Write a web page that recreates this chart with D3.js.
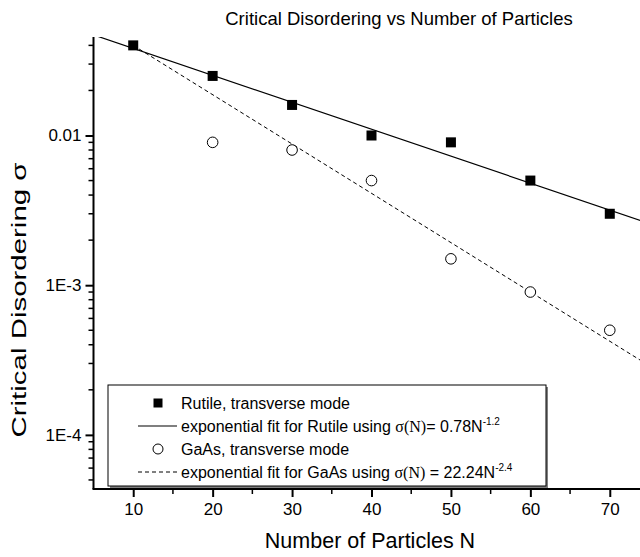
<!DOCTYPE html>
<html><head><meta charset="utf-8">
<script src="https://cdn.jsdelivr.net/npm/d3@7"></script>
<style>body{margin:0;background:#fff} svg{display:block;font-family:Arial,"Liberation Sans",sans-serif}</style>
</head><body><svg id="c" width="640" height="557"></svg>
<script>
// ---- data ----
const particlesN = [10, 20, 30, 40, 50, 60, 70];
const rutileSigma = [0.040, 0.025, 0.016, 0.010, 0.0090, 0.0050, 0.0030];
const gaasN = [20, 30, 40, 50, 60, 70];
const gaasSigma = [0.0090, 0.0080, 0.0050, 0.0015, 0.00090, 0.00050];
const rutileFitN = [5, 75];
const rutileFitSigma = [0.0470, 0.00258];
const gaasFitN = [10, 75];
const gaasFitSigma = [0.0400, 0.000289];
const xTickValues = [10, 20, 30, 40, 50, 60, 70];
const yTickValues = [1e-4, 1e-3, 1e-2];
const yTickLabels = ["1E-4", "1E-3", "0.01"];
const legendLabels = ["Rutile, transverse mode", "exponential fit for Rutile using ", "GaAs, transverse mode", "exponential fit for GaAs using "];

const svg = d3.select("#c");
const L = 93.5, R = 649.5, T = 37, B = 489;
const x = d3.scaleLinear().domain([5, 75]).range([L, R]);
const y = d3.scaleLog().domain([4.35e-5, 0.0455]).range([B, T]);

svg.append("defs").append("clipPath").attr("id", "clip")
  .append("rect").attr("x", L).attr("y", T).attr("width", R - L).attr("height", B - T);

// title
svg.append("text").attr("x", 399).attr("y", 25).attr("text-anchor", "middle")
  .attr("font-size", 18.5).text("Critical Disordering vs Number of Particles");

// fit lines
const line = d3.line().x(d => x(d[0])).y(d => y(d[1]));
const g = svg.append("g").attr("clip-path", "url(#clip)");
g.append("path").datum(rutileFitN.map((n, i) => [n, rutileFitSigma[i]]))
  .attr("d", line).attr("fill", "none").attr("stroke", "#000").attr("stroke-width", 1.2);
g.append("path").datum(gaasFitN.map((n, i) => [n, gaasFitSigma[i]]))
  .attr("d", line).attr("fill", "none").attr("stroke", "#000").attr("stroke-width", 1)
  .attr("stroke-dasharray", "4,3");

// markers
const sq = 10;
g.selectAll(".sq").data(particlesN).enter().append("rect")
  .attr("x", (d) => x(d) - sq / 2).attr("y", (d, i) => y(rutileSigma[i]) - sq / 2)
  .attr("width", sq).attr("height", sq).attr("fill", "#000");
g.selectAll(".ci").data(gaasN).enter().append("circle")
  .attr("cx", d => x(d)).attr("cy", (d, i) => y(gaasSigma[i])).attr("r", 5.3)
  .attr("fill", "#fff").attr("stroke", "#000").attr("stroke-width", 1);

// axes
const yMinor = y.ticks().filter(v => !yTickValues.some(t => Math.abs(t - v) / t < 1e-6));
const yAx = svg.append("g").attr("transform", `translate(${L},0)`)
  .call(d3.axisLeft(y).tickValues(yTickValues).tickFormat((d, i) => yTickLabels[i]).tickSize(8).tickPadding(4));
yAx.select(".domain").attr("d", `M0,${T}V${B}`).attr("stroke-width", 2);
yAx.selectAll(".tick line").attr("stroke-width", 2);
yAx.selectAll("text").attr("font-size", 17).attr("font-family", "Arial,'Liberation Sans',sans-serif");
yAx.selectAll(".minor").data(yMinor).enter().append("line").attr("class", "minor")
  .attr("x1", -5).attr("x2", 0).attr("y1", d => y(d)).attr("y2", d => y(d))
  .attr("stroke", "#000").attr("stroke-width", 1.5);

const xMinor = x.ticks(14).filter(v => !xTickValues.includes(v) && v > 5);
const xAx = svg.append("g").attr("transform", `translate(0,${B})`)
  .call(d3.axisBottom(x).tickValues(xTickValues).tickSize(8).tickPadding(6));
xAx.select(".domain").attr("d", `M${L - 1},0H${R}`).attr("stroke-width", 2);
xAx.selectAll(".tick line").attr("stroke-width", 2);
xAx.selectAll("text").attr("font-size", 17).attr("font-family", "Arial,'Liberation Sans',sans-serif");
xAx.selectAll(".minor").data(xMinor).enter().append("line").attr("class", "minor")
  .attr("x1", d => x(d)).attr("x2", d => x(d)).attr("y1", 0).attr("y2", 5)
  .attr("stroke", "#000").attr("stroke-width", 1.5);

// axis titles
svg.append("text").attr("x", 370).attr("y", 548).attr("text-anchor", "middle")
  .attr("font-size", 21.5).text("Number of Particles N");
svg.append("text").attr("transform", `translate(26,300) rotate(-90)`)
  .attr("text-anchor", "middle").attr("font-size", 21)
  .attr("textLength", 275).attr("lengthAdjust", "spacingAndGlyphs").text("Critical Disordering σ");

// legend
const lx = 108, ly = 385, lw = 438, lh = 101;
svg.append("rect").attr("x", lx + 2).attr("y", ly + 2).attr("width", lw).attr("height", lh).attr("fill", "#808080");
svg.append("rect").attr("x", lx).attr("y", ly).attr("width", lw).attr("height", lh)
  .attr("fill", "#fff").attr("stroke", "#000").attr("stroke-width", 1);
const rowY = [403, 426, 449, 472];
const tx = 181, fs = 16;
svg.append("rect").attr("x", 158 - 4.5).attr("y", rowY[0] - 4.5).attr("width", 9).attr("height", 9).attr("fill", "#000");
svg.append("line").attr("x1", 138).attr("x2", 177).attr("y1", rowY[1]).attr("y2", rowY[1]).attr("stroke", "#000").attr("stroke-width", 1.2);
svg.append("circle").attr("cx", 158).attr("cy", rowY[2]).attr("r", 5).attr("fill", "#fff").attr("stroke", "#000");
svg.append("line").attr("x1", 138).attr("x2", 177).attr("y1", rowY[3]).attr("y2", rowY[3]).attr("stroke", "#000").attr("stroke-dasharray", "4,3");

function legendText(i, sig, coef, exp) {
  const t = svg.append("text").attr("x", tx).attr("y", rowY[i] + 5.5).attr("font-size", fs);
  t.append("tspan").text(legendLabels[i]);
  if (sig) {
    t.append("tspan").attr("font-family", "'Times New Roman','Liberation Serif',serif").text("σ(N)");
    t.append("tspan").text(coef);
    t.append("tspan").attr("font-size", 10).attr("dy", -7).text(exp);
  }
}
legendText(0);
legendText(1, true, "= 0.78N", "-1.2");
legendText(2);
legendText(3, true, " = 22.24N", "-2.4");
</script></body></html>
